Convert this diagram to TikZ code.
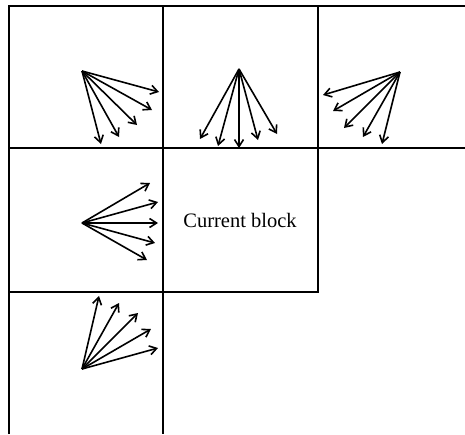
\documentclass[tikz,border=0pt]{standalone}
\usepackage{fontspec}
\setmainfont{Liberation Serif}
\usetikzlibrary{arrows.meta}
\begin{document}
\begin{tikzpicture}[x=1pt,y=-1pt,
  grid/.style={line width=2.4pt},
  thin grid/.style={line width=1.6pt},
  vec/.style={line width=1.6pt,-{Straight Barb[length=7pt,width=9pt]}}]
\useasboundingbox (0,0) rectangle (465,434);
% block grid
\draw[grid] (9,434) -- (9,6) -- (465,6);
\draw[grid] (163,6) -- (163,434);
\draw[grid] (318,6) -- (318,148);
\draw[grid] (9,148) -- (465,148);
\draw[grid] (9,292) -- (163,292);
% current block outline
\draw[thin grid] (318,148) -- (318,292) -- (163,292);
\node[font=\fontsize{20.5}{24}\selectfont] (cur) at (240,220) {Current block};
% upper-left neighbour
\coordinate (ul) at (82,71);
\foreach \x/\y [count=\i] in {159/92,152/110,137/125,119/137,101/144}
  { \draw[vec] (ul) -- (\x,\y) coordinate (ul\i); }
% upper neighbour
\coordinate (up) at (239,69);
\foreach \x/\y [count=\i] in {200/139,218/146,239/148,258/140,277/134}
  { \draw[vec] (up) -- (\x,\y) coordinate (up\i); }
% upper-right neighbour
\coordinate (ur) at (400,72);
\foreach \x/\y [count=\i] in {323/95,333/111,344/128,363/137,382/144}
  { \draw[vec] (ur) -- (\x,\y) coordinate (ur\i); }
% left neighbour
\coordinate (lf) at (82,223);
\foreach \x/\y [count=\i] in {150/183,158/202,158/223,155/243,147/260}
  { \draw[vec] (lf) -- (\x,\y) coordinate (lf\i); }
% lower-left neighbour
\coordinate (ll) at (82,369);
\foreach \x/\y [count=\i] in {99/296,119/303,138/313,151/329,158/348}
  { \draw[vec] (ll) -- (\x,\y) coordinate (ll\i); }
\end{tikzpicture}
\end{document}
